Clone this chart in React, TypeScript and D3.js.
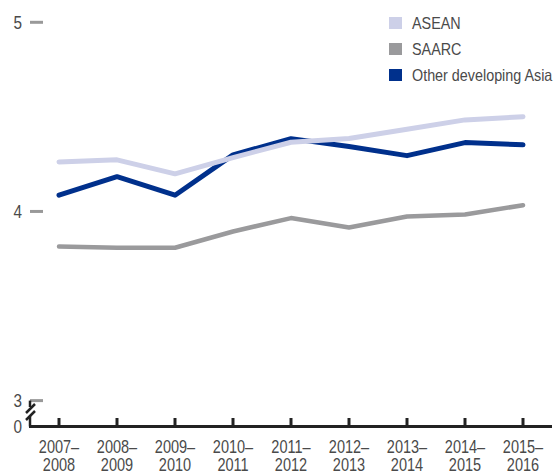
import React from "react";
import * as d3 from "d3";

const periodsStart = ["2007–", "2008–", "2009–", "2010–", "2011–", "2012–", "2013–", "2014–", "2015–"];
const periodsEnd = ["2008", "2009", "2010", "2011", "2012", "2013", "2014", "2015", "2016"];
const asean = [4.262, 4.273, 4.199, 4.285, 4.366, 4.386, 4.435, 4.484, 4.501];
const saarc = [3.815, 3.808, 3.808, 3.894, 3.965, 3.915, 3.973, 3.984, 4.033];
const otherAsia = [4.086, 4.184, 4.086, 4.299, 4.385, 4.343, 4.295, 4.364, 4.352];
const yTicks = [3, 4, 5];

const seriesNames = ["ASEAN", "SAARC", "Other developing Asia"];
const seriesColors = ["#cdd0e8", "#9a9a9c", "#00308c"];

const FONT = "'Liberation Sans', Arial, sans-serif";
const TEXT = "#4a4a4a";

function CText({
  x,
  y,
  sx,
  size,
  anchor,
  children,
}: {
  x: number;
  y: number;
  sx: number;
  size: number;
  anchor: "start" | "middle" | "end";
  children: React.ReactNode;
}) {
  return (
    <text
      transform={`translate(${x},${y}) scale(${sx},1)`}
      textAnchor={anchor}
      fontSize={size}
      fill={TEXT}
    >
      {children}
    </text>
  );
}

export default function App() {
  const W = 558, H = 475;
  const x = d3.scalePoint<string>().domain(periodsEnd).range([59, 523]);
  const y = d3.scaleLinear().domain([3, 5]).range([400.6, 22.3]);
  const axisY = 426.5;
  const line = d3
    .line<number>()
    .x((_, i) => x(periodsEnd[i]) as number)
    .y((d) => y(d));

  const series = [
    { name: seriesNames[1], data: saarc, color: seriesColors[1], w: 4.5 },
    { name: seriesNames[2], data: otherAsia, color: seriesColors[2], w: 5 },
    { name: seriesNames[0], data: asean, color: seriesColors[0], w: 5 },
  ];

  return (
    <svg
      width={W}
      height={H}
      style={{ position: "absolute", left: 0, top: 0, background: "#fff" }}
      fontFamily={FONT}
    >
      {/* y ticks */}
      {yTicks.map((t) => (
        <g key={t}>
          <line x1={30} x2={43} y1={y(t)} y2={y(t)} stroke="#999" strokeWidth={3} />
          <CText x={22} y={y(t) + 6.5} sx={0.85} size={18} anchor="end">
            {t}
          </CText>
        </g>
      ))}
      <CText x={22} y={axisY + 6.5} sx={0.85} size={18} anchor="end">
        0
      </CText>
      {/* axis break */}
      <g stroke="#222" strokeWidth={2.5} fill="none">
        <line x1={30} x2={30} y1={y(3)} y2={407} />
        <line x1={26} x2={35} y1={413} y2={404} />
        <line x1={26} x2={35} y1={420} y2={411} />
        <line x1={30} x2={30} y1={416} y2={axisY} />
      </g>
      {/* x axis */}
      <line x1={29} x2={552} y1={axisY} y2={axisY} stroke="#222" strokeWidth={3} />
      {periodsEnd.map((p, i) => (
        <g key={p}>
          <line x1={x(p)} x2={x(p)} y1={418} y2={axisY} stroke="#222" strokeWidth={3} />
          <CText x={x(p) as number} y={452.5} sx={0.83} size={17.5} anchor="middle">
            {periodsStart[i]}
          </CText>
          <CText x={x(p) as number} y={471} sx={0.83} size={17.5} anchor="middle">
            {p}
          </CText>
        </g>
      ))}
      {/* lines */}
      {series.map((s) => (
        <path
          key={s.name}
          d={line(s.data) || ""}
          fill="none"
          stroke={s.color}
          strokeWidth={s.w}
          strokeLinecap="round"
          strokeLinejoin="round"
        />
      ))}
      {/* legend */}
      {seriesNames.map((n, i) => (
        <g key={n}>
          <rect x={389} y={17 + i * 26} width={13} height={12} fill={seriesColors[i]} />
          <CText x={412} y={17 + i * 26 + 12} sx={0.87} size={16.5} anchor="start">
            {n}
          </CText>
        </g>
      ))}
    </svg>
  );
}
